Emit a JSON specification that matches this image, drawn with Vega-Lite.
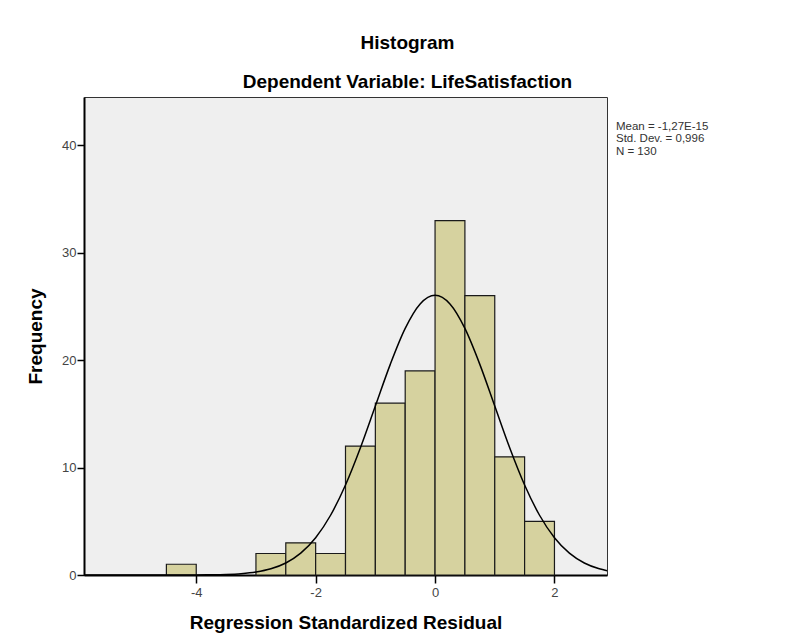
{
  "$schema": "https://vega.github.io/schema/vega-lite/v6.json",
  "autosize": {"type": "none"},
  "padding": {"left": 84, "top": 97, "right": 183, "bottom": 64},
  "width": 523,
  "height": 478,
  "background": "white",
  "config": {
    "font": "Liberation Sans",
    "view": {"fill": "#EFEFEF", "stroke": "#333333", "strokeWidth": 1}
  },
  "title": {
    "text": "Histogram",
    "subtitle": "Dependent Variable: LifeSatisfaction",
    "fontSize": 19,
    "fontWeight": "bold",
    "color": "#000000",
    "subtitleFontSize": 19,
    "subtitleFontWeight": "bold",
    "subtitleColor": "#000000",
    "subtitlePadding": 20,
    "anchor": "middle",
    "frame": "group",
    "dx": 62,
    "offset": 5
  },
  "datasets": {
    "bins": [
      {"start": -4.5, "end": -4.0, "count": 1},
      {"start": -3.0, "end": -2.5, "count": 2},
      {"start": -2.5, "end": -2.0, "count": 3},
      {"start": -2.0, "end": -1.5, "count": 2},
      {"start": -1.5, "end": -1.0, "count": 12},
      {"start": -1.0, "end": -0.5, "count": 16},
      {"start": -0.5, "end": 0.0, "count": 19},
      {"start": 0.0, "end": 0.5, "count": 33},
      {"start": 0.5, "end": 1.0, "count": 26},
      {"start": 1.0, "end": 1.5, "count": 11},
      {"start": 1.5, "end": 2.0, "count": 5}
    ],
    "curve": [
      {"x": -5.88, "y": 0},
      {"x": -5.0, "y": 0.0001},
      {"x": -4.5, "y": 0.001},
      {"x": -4.0, "y": 0.0082},
      {"x": -3.75, "y": 0.0218},
      {"x": -3.5, "y": 0.0542},
      {"x": -3.25, "y": 0.127},
      {"x": -3.0, "y": 0.279},
      {"x": -2.75, "y": 0.576},
      {"x": -2.5, "y": 1.115},
      {"x": -2.25, "y": 2.030},
      {"x": -2.0, "y": 3.467},
      {"x": -1.75, "y": 5.562},
      {"x": -1.5, "y": 8.376},
      {"x": -1.25, "y": 11.845},
      {"x": -1.0, "y": 15.728},
      {"x": -0.75, "y": 19.608},
      {"x": -0.5, "y": 22.953},
      {"x": -0.25, "y": 25.228},
      {"x": 0.0, "y": 26.035},
      {"x": 0.25, "y": 25.228},
      {"x": 0.5, "y": 22.953},
      {"x": 0.75, "y": 19.608},
      {"x": 1.0, "y": 15.728},
      {"x": 1.25, "y": 11.845},
      {"x": 1.5, "y": 8.376},
      {"x": 1.75, "y": 5.562},
      {"x": 2.0, "y": 3.467},
      {"x": 2.25, "y": 2.030},
      {"x": 2.5, "y": 1.115},
      {"x": 2.75, "y": 0.576},
      {"x": 2.88, "y": 0.398}
    ],
    "stats": [
      {"label": "Mean = -1,27E-15|Std. Dev. = 0,996|N = 130"}
    ]
  },
  "layer": [
    {
      "data": {"name": "bins"},
      "mark": {"type": "rect", "fill": "#D6D29F", "stroke": "#1a1a1a", "strokeWidth": 1.2},
      "encoding": {
        "x": {
          "field": "start",
          "type": "quantitative",
          "scale": {"domain": [-5.88, 2.88], "nice": false, "zero": false},
          "axis": {
            "title": "Regression Standardized Residual",
            "titleFontSize": 19,
            "titleFontWeight": "bold",
            "titleColor": "#000000",
            "titlePadding": 14,
            "values": [-4, -2, 0, 2],
            "labelExpr": "datum.value + ''",
            "labelFontSize": 13,
            "labelColor": "#444444",
            "labelPadding": 3,
            "tickSize": 8,
            "tickColor": "#000000",
            "tickWidth": 1.5,
            "domainColor": "#000000",
            "domainWidth": 2,
            "grid": false
          }
        },
        "x2": {"field": "end"},
        "y": {
          "field": "count",
          "type": "quantitative",
          "scale": {"domain": [0, 44.5], "nice": false},
          "axis": {
            "title": "Frequency",
            "titleFontSize": 19,
            "titleFontWeight": "bold",
            "titleColor": "#000000",
            "titlePadding": 16,
            "values": [0, 10, 20, 30, 40],
            "labelFontSize": 13,
            "labelColor": "#444444",
            "labelPadding": 1,
            "tickSize": 7,
            "tickColor": "#000000",
            "tickWidth": 1.5,
            "domainColor": "#000000",
            "domainWidth": 2,
            "grid": false
          }
        },
        "y2": {"datum": 0}
      }
    },
    {
      "data": {"name": "curve"},
      "mark": {"type": "line", "color": "#000000", "strokeWidth": 1.5, "interpolate": "monotone"},
      "encoding": {
        "x": {"field": "x", "type": "quantitative"},
        "y": {"field": "y", "type": "quantitative"}
      }
    },
    {
      "data": {"name": "stats"},
      "mark": {"type": "text", "align": "left", "baseline": "top", "fontSize": 11.5, "lineHeight": 12.5, "lineBreak": "|", "color": "#333333", "clip": false},
      "encoding": {
        "x": {"datum": 3.03, "type": "quantitative"},
        "y": {"datum": 42.3, "type": "quantitative"},
        "text": {"field": "label"}
      }
    }
  ]
}
